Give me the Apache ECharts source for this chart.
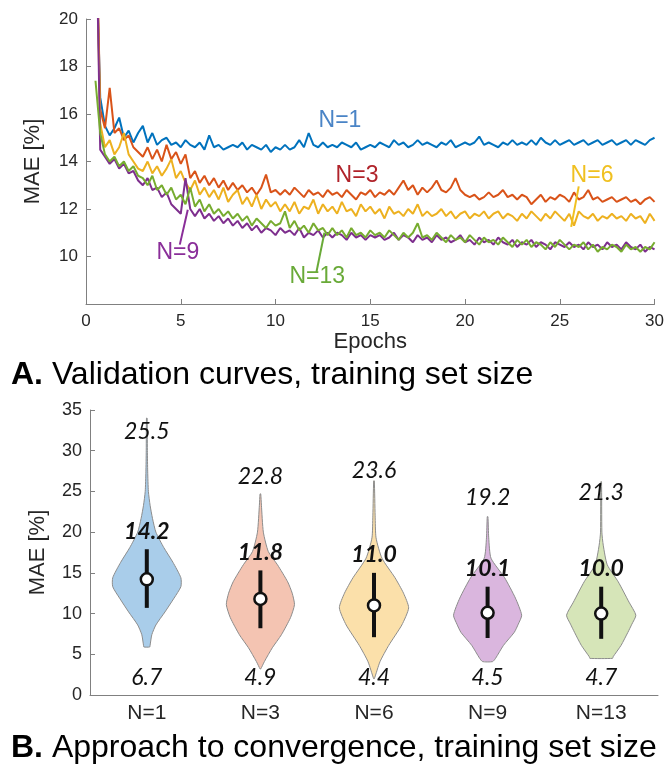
<!DOCTYPE html>
<html>
<head>
<meta charset="utf-8">
<script src="https://cdn.jsdelivr.net/npm/echarts@6/dist/echarts.min.js"></script>
<style>
html, body { margin: 0; padding: 0; background: #fff; }
#main { width: 667px; height: 769px; }
</style>
</head>
<body>
<div id="main"></div>
<script>
// ---- A. validation curves (epoch 0.5 .. 30, every 0.25) ----
var epochStart = 0.5, epochStep = 0.25;

var maeN1 = [
  24.0, 16.7, 15.5, 15.1, 15.4, 15.85, 15.0, 15.3, 14.8, 15.2,
  15.5, 14.8, 15.2, 14.7, 14.9, 15.0, 14.7, 14.8, 14.6, 14.9,
  14.7, 14.6, 14.8, 14.5, 15.1, 14.6, 14.7, 14.5, 14.6, 14.7,
  14.6, 14.8, 14.5, 14.7, 14.6, 14.5, 14.7, 14.4, 14.6, 14.5,
  14.7, 14.5, 14.6, 14.9, 14.6, 15.2, 14.7, 14.6, 14.8, 14.6,
  14.7, 14.6, 14.8, 14.7, 14.6, 14.8, 14.5, 14.6, 14.7, 14.6,
  14.8, 14.7, 14.6, 14.9, 14.7, 14.8, 14.6, 14.7, 14.9, 14.7,
  14.8, 14.7, 14.6, 14.8, 14.7, 14.9, 14.6, 14.7, 14.8, 14.7,
  14.8, 15.05, 14.7, 14.8, 14.7, 14.6, 14.8, 14.7, 14.9, 14.7,
  14.8, 14.7, 14.9, 14.7, 15.0, 14.8, 14.7, 14.9, 14.7, 14.8,
  14.9, 14.7, 14.8, 14.9, 14.7, 14.8, 14.9, 14.7, 14.8, 14.9,
  14.7, 14.8, 14.9, 14.7, 14.9, 14.8, 14.7, 14.9, 15.0
];
var maeN3 = [
  26.0, 16.2, 15.4, 17.1, 15.2, 15.4, 14.9, 15.1, 14.6, 14.4,
  14.2, 14.6, 14.1, 14.5, 14.0, 14.7, 14.1, 14.4, 13.9, 14.3,
  13.3, 13.6, 13.1, 13.4, 13.0, 13.3, 12.9, 13.2, 12.8, 13.1,
  12.8, 13.0, 12.7, 12.9, 12.6, 12.9, 13.45, 12.7, 12.8, 12.6,
  12.8, 12.6, 12.9, 12.7, 12.5, 12.8, 12.6, 12.7, 12.5, 12.8,
  12.6, 12.7, 12.5, 12.8, 12.6, 12.4, 12.7, 12.6, 12.8, 12.5,
  12.7, 12.6, 12.8, 12.6, 12.9, 13.2, 12.8, 13.0, 12.6, 12.9,
  12.7, 12.9, 13.2, 12.8, 12.7, 12.9, 13.3, 12.8, 12.6, 12.5,
  12.6, 12.4, 12.5, 12.7, 12.5, 12.6, 12.8, 12.5, 12.6, 12.4,
  12.6, 12.5, 12.2, 12.4, 12.6, 12.3, 12.5, 12.4, 12.6, 12.5,
  12.3, 12.7, 12.4, 12.5, 12.8, 12.4, 12.5, 12.3, 12.4, 12.5,
  12.3, 12.4, 12.5, 12.3, 12.4, 12.2, 12.4, 12.5, 12.3
];
var maeN6 = [
  25.0, 15.6, 14.6, 14.9, 14.3, 14.6, 15.2, 14.3, 14.0, 13.7,
  13.6, 14.0, 13.5, 13.8, 13.4, 13.7, 14.1, 13.3, 13.6, 13.1,
  12.8, 13.2, 12.6, 12.9, 12.5, 12.8, 12.4, 12.9, 12.3, 12.6,
  12.8, 12.2, 12.5, 12.1, 12.6, 12.0, 12.4, 12.1, 12.3, 11.9,
  12.2, 11.9, 12.3, 11.8, 12.1, 12.0, 12.4, 11.8, 12.2, 11.9,
  12.1, 11.8, 12.3, 11.9, 12.0, 11.7, 12.2, 11.9, 12.1, 11.8,
  12.0, 11.6, 12.1, 11.8, 11.9, 11.7, 12.0, 11.8, 12.2, 11.7,
  11.9, 11.7, 11.8, 12.0, 11.7, 11.9, 11.6, 11.8, 11.9, 11.6,
  11.8, 11.7, 11.9, 11.6, 11.8, 11.9, 11.6, 11.8, 11.7, 11.5,
  11.8, 11.6, 11.9, 11.7, 11.5, 11.8, 11.6, 11.9, 11.7, 11.5,
  11.8, 11.3, 11.9, 11.7, 11.6, 11.8, 11.5, 11.7, 11.6, 11.8,
  11.6, 11.7, 11.5, 11.8, 11.6, 11.7, 11.4, 11.8, 11.5
];
var maeN9 = [
  26.0, 14.5, 14.2, 13.9, 14.1, 13.7, 13.9, 13.5, 13.6, 13.2,
  13.0, 13.3, 12.8, 12.9, 12.5, 12.7, 12.2, 12.0, 11.8, 13.3,
  12.0, 11.7, 12.0, 11.6, 11.8, 11.5, 11.7, 11.4, 11.6, 11.3,
  11.5, 11.2, 11.4, 11.1, 11.3, 11.0, 11.2, 11.1, 10.9, 11.2,
  11.0, 11.1, 10.9, 11.2, 10.8, 11.0, 10.9, 11.1, 10.8, 11.0,
  10.8, 11.0, 10.9, 10.7, 11.0, 10.8, 10.9, 10.7, 10.9, 10.8,
  10.9, 10.7, 10.8, 11.0, 10.7, 10.9, 10.8, 10.6, 10.9, 10.7,
  10.8, 10.6, 10.9, 10.7, 10.8, 10.6, 10.7, 10.9, 10.6, 10.7,
  10.5, 10.8, 10.6, 10.7, 10.5, 10.8, 10.6, 10.5, 10.7, 10.4,
  10.6, 10.5, 10.7, 10.4, 10.6, 10.5, 10.3, 10.6, 10.5, 10.4,
  10.6, 10.4, 10.5, 10.3, 10.6, 10.4, 10.5, 10.3, 10.6, 10.4,
  10.5, 10.3, 10.6, 10.4, 10.3, 10.5, 10.2, 10.4, 10.3
];
var maeN13 = [
  17.4, 15.2, 14.3, 14.0, 14.2, 13.8, 14.0, 13.6, 13.8, 13.4,
  13.3, 13.0, 13.4, 12.8, 13.0, 12.6, 12.9, 12.4, 12.6, 12.2,
  12.9, 12.1, 12.4, 11.9, 12.2, 11.8, 12.0, 11.7, 11.9, 11.6,
  11.8, 11.5, 11.7, 11.3, 11.6, 11.4, 11.2, 11.5, 11.3, 11.4,
  11.9, 11.2, 11.5, 11.1, 11.3, 11.0, 11.4, 11.1, 11.2, 10.9,
  11.2, 10.9, 11.1, 10.8, 11.2, 10.9, 11.0, 10.8, 11.1, 10.9,
  11.0, 10.8, 11.1, 10.9, 10.7, 11.0, 10.8, 11.0, 11.4, 10.8,
  10.9, 10.7, 11.0, 10.8, 10.6, 10.9, 10.7, 10.8, 10.6, 10.9,
  10.7, 10.5, 10.8, 10.6, 10.7, 10.5, 10.8, 10.6, 10.4, 10.7,
  10.5, 10.7, 10.4, 10.6, 10.5, 10.3, 10.6, 10.4, 10.7, 10.5,
  10.3, 10.5, 10.4, 10.6, 10.3, 10.5, 10.2, 10.4, 10.3, 10.5,
  10.4, 10.2, 10.5, 10.3, 10.4, 10.2, 10.4, 10.3, 10.6
];
var curveNames = ['N=1', 'N=3', 'N=6', 'N=9', 'N=13'];
var curveColors = ['#0072BD', '#D95319', '#EDB120', '#7E2F8E', '#77AC30'];
var curveLabelColors = ['#4a84c6', '#b0232a', '#f0c020', '#8a2e99', '#69aa38'];

// ---- B. violins: profile = [MAE, half width in % of the category band] ----
var groups = ['N=1', 'N=3', 'N=6', 'N=9', 'N=13'];
var medians = [14.2, 11.8, 11.0, 10.1, 10.0];
var maxima = [25.5, 22.8, 23.6, 19.2, 21.3];
var minima = [6.7, 4.9, 4.4, 4.5, 4.7];
var whiskerLow = [10.7, 8.2, 7.1, 7.0, 6.9];
var whiskerHigh = [17.9, 15.3, 15.0, 13.3, 13.3];
var profileN1 = [[5.9, 2.6], [6.1, 2.9], [7.4, 4.4], [8.6, 8], [10.2, 16], [11.9, 24], [13.3, 30], [14.4, 30],
  [16.3, 23], [18.1, 15], [20, 8], [21.7, 5], [23.3, 2.9], [25, 1.4], [27.4, 0.8], [30, 0.5], [34, 0.3]];
var profileN3 = [[3.2, 0.3], [4.1, 3.5], [5.8, 10.5], [7.4, 18.5], [9.5, 26.5], [11.1, 30], [12.5, 28], [13.9, 24],
  [16, 15], [17.6, 7], [20, 2.6], [23.3, 0.9], [24.7, 0.3]];
var profileN6 = [[2.0, 0.3], [4.1, 5.3], [6.1, 13], [8.6, 24.5], [10.7, 30.5], [12.5, 26], [14.4, 18.5],
  [16.8, 7], [19.3, 1.8], [22, 1], [26.3, 0.3]];
var profileN9 = [[4.1, 4.4], [4.5, 7], [6.1, 14], [7.7, 23.5], [8.7, 27], [9.8, 30], [11.9, 24.5], [14.4, 15],
  [16.8, 3], [19.3, 1], [21.9, 0.3]];
var profileN13 = [[4.5, 10], [4.7, 10.5], [6.1, 17.5], [7.7, 23.5], [8.7, 27], [9.8, 30.5], [11.4, 24.5],
  [13.9, 15], [16, 5.3], [18.4, 1.8], [20, 0.6], [26.2, 0.3]];
var violinProfiles = [profileN1, profileN3, profileN6, profileN9, profileN13];
var violinColors = ['#a9cdea', '#f4c4b2', '#fbe0aa', '#dab6de', '#d6e5b8'];

// label anchors (layout only)
var maxLabelAt = [32.3, 26.8, 27.6, 24.2, 24.8];
var minLabelAt = 2.2;
var annotAt = [[13.4, 15.7], [14.3, 13.4], [26.7, 13.4], [4.85, 10.15], [12.2, 9.15]];
var pointerAt = [null, null, [[26.0, 12.95], [25.6, 11.25]], [[4.95, 10.5], [5.37, 11.97]], [[12.16, 9.35], [12.58, 11.0]]];

var curves = [maeN1, maeN3, maeN6, maeN9, maeN13];
var axisGray = '#808080';
var tickText = '#262626';
var sans = 'Liberation Sans, Arial, sans-serif';

var lineSeries = curves.map(function (vals, k) {
  var s = {
    name: curveNames[k],
    type: 'line',
    xAxisIndex: 0, yAxisIndex: 0,
    showSymbol: false,
    clip: true,
    lineStyle: { width: 2, color: curveColors[k] },
    itemStyle: { color: curveColors[k] },
    data: vals.map(function (v, i) { return [epochStart + i * epochStep, v]; }),
    markPoint: {
      silent: true,
      symbol: 'circle', symbolSize: 1,
      itemStyle: { color: 'rgba(0,0,0,0)' },
      label: { show: true, position: 'inside', formatter: curveNames[k],
        color: curveLabelColors[k], fontSize: 23, fontFamily: sans },
      data: [{ coord: annotAt[k] }]
    }
  };
  if (pointerAt[k]) {
    s.markLine = {
      silent: true, symbol: 'none',
      label: { show: false },
      lineStyle: { type: 'solid', width: 2, color: curveLabelColors[k] },
      data: [[{ coord: pointerAt[k][0] }, { coord: pointerAt[k][1] }]]
    };
  }
  return s;
});

function renderViolin(params, api) {
  var i = api.value(0);
  var band = api.size([1, 0])[0];
  var cx = api.coord([i, 0])[0];
  var right = [], left = [];
  violinProfiles[i].forEach(function (p) {
    var y = api.coord([i, p[0]])[1];
    var w = band * p[1] / 100;
    right.push([cx + w, y]);
    left.unshift([cx - w, y]);
  });
  var lo = api.coord([i, whiskerLow[i]]);
  var hi = api.coord([i, whiskerHigh[i]]);
  var md = api.coord([i, medians[i]]);
  var font = 'italic 23px Lato, sans-serif';
  return {
    type: 'group',
    children: [
      { type: 'polygon', shape: { points: right.concat(left), smooth: 0.2 },
        style: { fill: violinColors[i], stroke: '#8c8c8c', lineWidth: 1 } },
      { type: 'line', shape: { x1: lo[0], y1: lo[1], x2: hi[0], y2: hi[1] },
        style: { stroke: '#111', lineWidth: 4 } },
      { type: 'circle', shape: { cx: md[0], cy: md[1], r: 6 },
        style: { fill: '#fff', stroke: '#111', lineWidth: 2.5 } },
      { type: 'text', x: cx, y: api.coord([i, maxLabelAt[i]])[1],
        style: { text: maxima[i].toFixed(1), font: font, fill: '#111', align: 'center', verticalAlign: 'middle' } },
      { type: 'text', x: cx, y: api.coord([i, whiskerHigh[i] + 2.2])[1],
        style: { text: medians[i].toFixed(1), font: 'italic bold 23px Lato, sans-serif', fill: '#111', align: 'center', verticalAlign: 'middle' } },
      { type: 'text', x: cx, y: api.coord([i, minLabelAt])[1],
        style: { text: minima[i].toFixed(1), font: font, fill: '#111', align: 'center', verticalAlign: 'middle' } }
    ]
  };
}

var titleRich = {
  b: { fontWeight: 'bold', fontSize: 32, lineHeight: 34, fontFamily: sans, color: '#000' },
  n: { fontWeight: 'normal', fontSize: 32, lineHeight: 34, fontFamily: sans, color: '#000' }
};

var chart = echarts.init(document.getElementById('main'));
chart.setOption({
  animation: false,
  title: [
    { text: '{b|A.}{n| Validation curves, training set size}', left: 11, top: 358, padding: 0,
      textStyle: { rich: titleRich } },
    { text: '{b|B.}{n| Approach to convergence, training set size}', left: 11, top: 731, padding: 0,
      textStyle: { rich: titleRich } }
  ],
  grid: [
    { left: 86, right: 11, top: 19, height: 285 },
    { left: 90, right: 9, top: 410, height: 285 }
  ],
  xAxis: [
    { type: 'value', gridIndex: 0, min: 0, max: 30, interval: 5,
      name: 'Epochs', nameLocation: 'middle', nameGap: 26,
      nameTextStyle: { fontSize: 22, fontFamily: sans, color: tickText },
      axisLine: { lineStyle: { color: axisGray } },
      axisTick: { inside: true, length: 5, lineStyle: { color: axisGray } },
      axisLabel: { fontSize: 17, fontFamily: sans, color: tickText, margin: 9 },
      splitLine: { show: false } },
    { type: 'category', gridIndex: 1, data: groups,
      axisLine: { lineStyle: { color: axisGray } },
      axisTick: { alignWithLabel: true, length: 4, lineStyle: { color: axisGray } },
      axisLabel: { fontSize: 21, fontFamily: sans, color: tickText, margin: 8 } }
  ],
  yAxis: [
    { type: 'value', gridIndex: 0, min: 8, max: 20, interval: 2,
      name: 'MAE [%]', nameLocation: 'middle', nameGap: 42, nameRotate: 90,
      nameTextStyle: { fontSize: 22, fontFamily: sans, color: tickText },
      axisLine: { show: true, lineStyle: { color: axisGray } },
      axisTick: { show: true, inside: true, length: 5, lineStyle: { color: axisGray } },
      axisLabel: { fontSize: 17, fontFamily: sans, color: tickText, margin: 8,
        formatter: function (v) { return v === 8 ? '' : v; } },
      splitLine: { show: false } },
    { type: 'value', gridIndex: 1, min: 0, max: 35, interval: 5,
      name: 'MAE [%]', nameLocation: 'middle', nameGap: 41, nameRotate: 90,
      nameTextStyle: { fontSize: 22, fontFamily: sans, color: tickText },
      axisLine: { show: true, lineStyle: { color: axisGray } },
      axisTick: { show: true, inside: true, length: 5, lineStyle: { color: axisGray } },
      axisLabel: { fontSize: 18, fontFamily: sans, color: tickText, margin: 8 },
      splitLine: { show: false } }
  ],
  series: lineSeries.concat([{
    type: 'custom',
    xAxisIndex: 1, yAxisIndex: 1,
    renderItem: renderViolin,
    data: groups.map(function (g, i) { return [i]; }),
    silent: true
  }])
});
</script>
</body>
</html>
